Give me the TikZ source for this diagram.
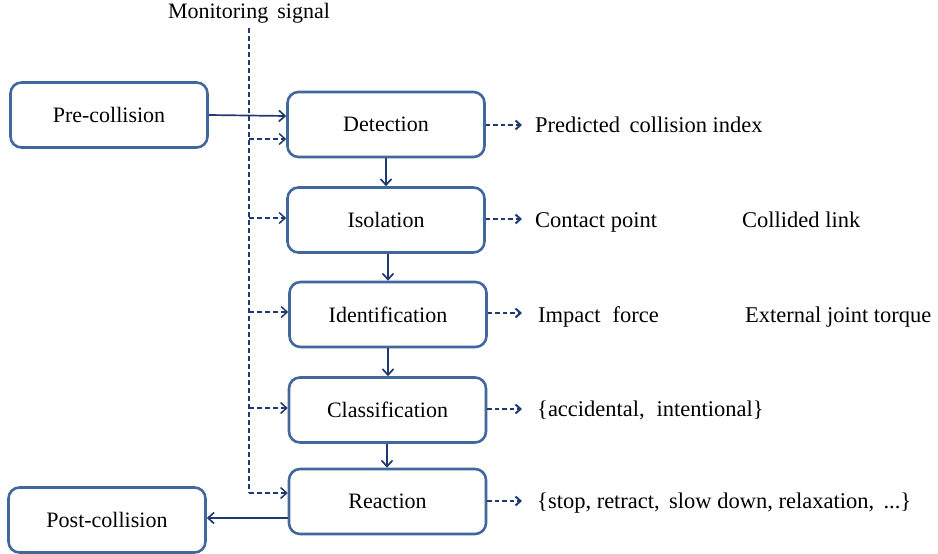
\documentclass[tikz,border=0pt]{standalone}
\usepackage{fontspec}
\newfontfamily\tnr{Liberation Serif}
\setmainfont{Liberation Serif}
\usetikzlibrary{arrows.meta}
\definecolor{boxc}{HTML}{42679A}
\definecolor{arrc}{HTML}{1F3A70}
\begin{document}
\begin{tikzpicture}[x=1pt,y=-1pt,
  stagebox/.style={draw=boxc,line width=2.6pt,rounded corners=11pt,minimum width=197pt,minimum height=65pt,inner sep=0pt,font=\tnr\fontsize{22}{26}\selectfont,text=black},
  outtext/.style={anchor=base west,inner sep=0pt,font=\tnr\fontsize{22.5}{27}\selectfont,text=black},
  solidarr/.style={draw=arrc,line width=1.7pt,-{Straight Barb[length=6pt,width=11pt,line width=1.7pt]}},
  dasharr/.style={draw=arrc,line width=1.5pt,dash pattern=on 5pt off 3pt,-{Straight Barb[length=6pt,width=11pt,line width=1.5pt]}},
  rightarr/.style={draw=arrc,line width=1.8pt,dash pattern=on 4.5pt off 3pt,-{Straight Barb[length=5pt,width=9pt,line width=2pt]}},
  monline/.style={draw=arrc,line width=1.5pt,dash pattern=on 5pt off 3pt}]
\useasboundingbox (0,0) rectangle (938,554);
\node[stagebox] (pre) at (109,115) {Pre-collision};
\node[stagebox] (post) at (107,520) {Post-collision};
\node[stagebox] (det) at (386,124.5) {Detection};
\node[stagebox] (iso) at (386,220) {Isolation};
\node[stagebox] (ide) at (388,314.5) {Identification};
\node[stagebox] (cla) at (387.5,410) {Classification};
\node[stagebox] (rea) at (387.5,501.5) {Reaction};
\node[inner sep=0pt,anchor=base,font=\tnr\fontsize{22}{26}\selectfont] (mon) at (249,19) {Monitoring\, signal};
% monitoring line
\coordinate (mtop) at (249,28);
\coordinate (mbot) at (249,493);
\draw[monline] (mtop) -- (mbot);
\coordinate (m1) at (249,139);
\coordinate (m2) at (249,218);
\coordinate (m3) at (249,312);
\coordinate (m4) at (249,408);
\draw[dasharr] (m1) -- (m1 -| det.west);
\draw[dasharr] (m2) -- (m2 -| iso.west);
\draw[dasharr] (m3) -- (m3 -| ide.west);
\draw[dasharr] (m4) -- (m4 -| cla.west);
\draw[dasharr] (mbot) -- (mbot -| rea.west);
% main flow
\draw[solidarr] (pre.east) -- ([yshift=8.5pt]det.west);
\draw[solidarr] (det.south) -- (iso.north);
\draw[solidarr] (iso.south -| ide.north) -- (ide.north);
\draw[solidarr] (ide.south) -- (ide.south |- cla.north);
\draw[solidarr] ([xshift=-0.5pt]cla.south) -- ([xshift=-0.5pt]rea.north);
\draw[solidarr] ([yshift=-16.5pt]rea.west) -- ([yshift=-16.5pt]rea.west -| post.east);
% outputs
\node[outtext] (o1) at (535,132) {Predicted\, collision index};
\node[outtext] (o2a) at (535,227) {Contact point};
\node[outtext] (o2b) at (742,227) {Collided link};
\node[outtext] (o3a) at (538,322) {Impact\; force};
\node[outtext] (o3b) at (745,322) {External joint torque};
\node[outtext] (o4) at (537,416) {\{accidental,\; intentional\}};
\node[outtext] (o5) at (537,508) {\{stop, retract,\, slow down, relaxation,\, ...\}};
\coordinate (t1) at (522,125);
\coordinate (t2) at (522,219);
\coordinate (t3) at (522,313);
\coordinate (t4) at (522,409);
\coordinate (t5) at (522,501);
\draw[rightarr] (det.east |- t1) -- (t1);
\draw[rightarr] (iso.east |- t2) -- (t2);
\draw[rightarr] (ide.east |- t3) -- (t3);
\draw[rightarr] (cla.east |- t4) -- (t4);
\draw[rightarr] (rea.east |- t5) -- (t5);
\end{tikzpicture}
\end{document}
